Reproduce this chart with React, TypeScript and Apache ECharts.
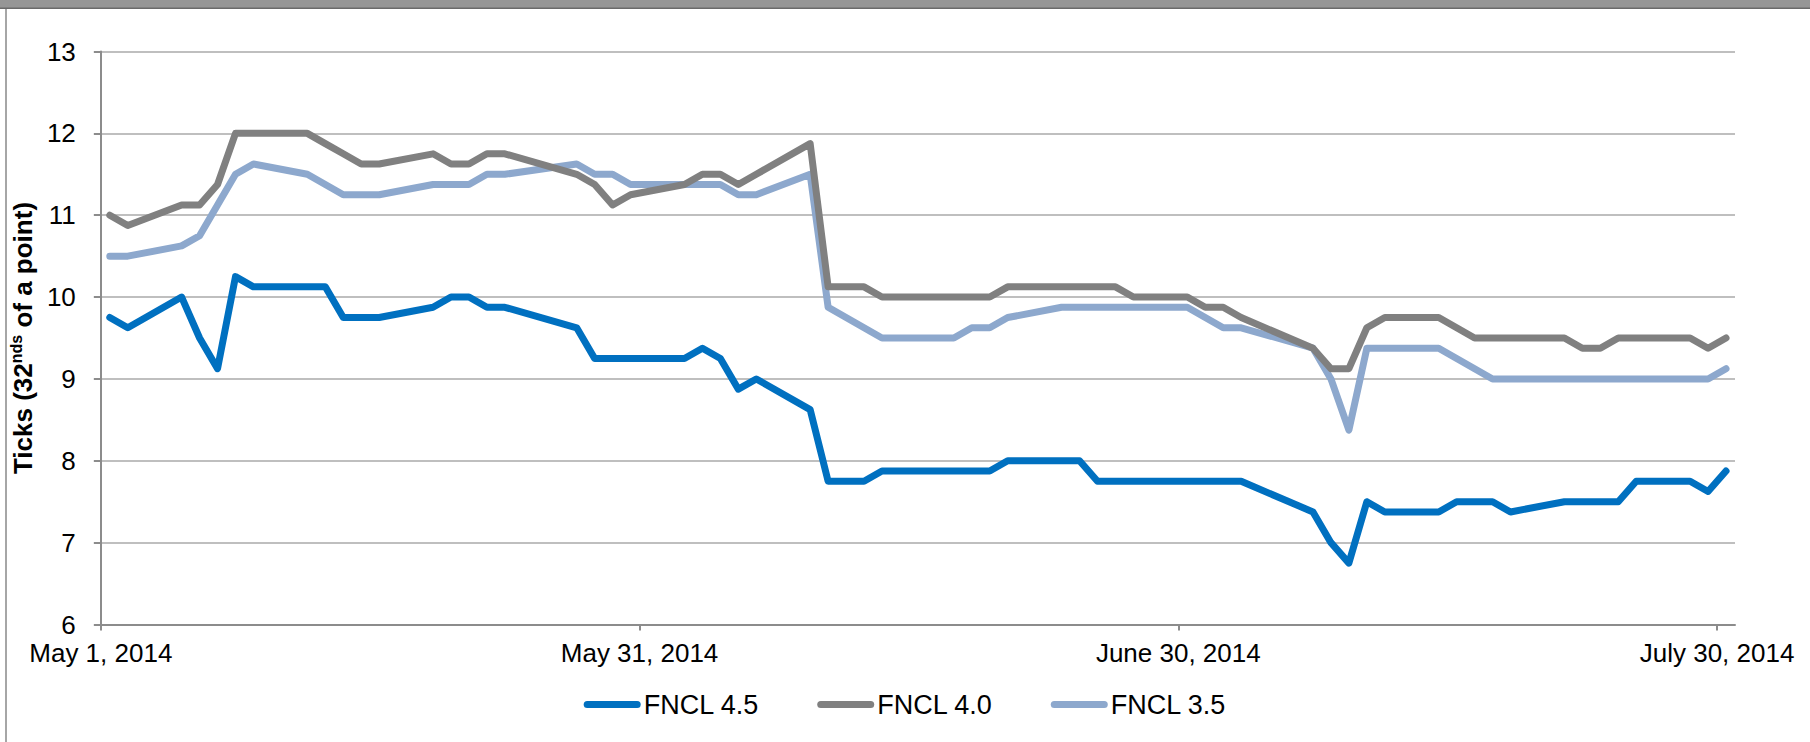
import React, { useEffect, useRef } from "react";
import * as echarts from "echarts";

const DATES = [
  "2014-05-01", "2014-05-02", "2014-05-05", "2014-05-06", "2014-05-07", "2014-05-08", "2014-05-09",
  "2014-05-12", "2014-05-13", "2014-05-14", "2014-05-15", "2014-05-16",
  "2014-05-19", "2014-05-20", "2014-05-21", "2014-05-22", "2014-05-23",
  "2014-05-27", "2014-05-28", "2014-05-29", "2014-05-30",
  "2014-06-02", "2014-06-03", "2014-06-04", "2014-06-05", "2014-06-06",
  "2014-06-09", "2014-06-10", "2014-06-11", "2014-06-12", "2014-06-13",
  "2014-06-16", "2014-06-17", "2014-06-18", "2014-06-19", "2014-06-20",
  "2014-06-23", "2014-06-24", "2014-06-25", "2014-06-26", "2014-06-27",
  "2014-06-30", "2014-07-01", "2014-07-02", "2014-07-03",
  "2014-07-07", "2014-07-08", "2014-07-09", "2014-07-10", "2014-07-11",
  "2014-07-14", "2014-07-15", "2014-07-16", "2014-07-17", "2014-07-18",
  "2014-07-21", "2014-07-22", "2014-07-23", "2014-07-24", "2014-07-25",
  "2014-07-28", "2014-07-29", "2014-07-30",
];

const FNCL_45 = [
  9.75, 9.625, 10.0, 9.5, 9.125, 10.25, 10.125,
  10.125, 10.125, 9.75, 9.75, 9.75,
  9.875, 10.0, 10.0, 9.875, 9.875,
  9.625, 9.25, 9.25, 9.25,
  9.25, 9.375, 9.25, 8.875, 9.0,
  8.625, 7.75, 7.75, 7.75, 7.875,
  7.875, 7.875, 7.875, 7.875, 8.0,
  8.0, 8.0, 7.75, 7.75, 7.75,
  7.75, 7.75, 7.75, 7.75,
  7.375, 7.0, 6.75, 7.5, 7.375,
  7.375, 7.5, 7.5, 7.5, 7.375,
  7.5, 7.5, 7.5, 7.5, 7.75,
  7.75, 7.625, 7.875,
];

const FNCL_40 = [
  11.0, 10.875, 11.125, 11.125, 11.375, 12.0, 12.0,
  12.0, 11.875, 11.75, 11.625, 11.625,
  11.75, 11.625, 11.625, 11.75, 11.75,
  11.5, 11.375, 11.125, 11.25,
  11.375, 11.5, 11.5, 11.375, 11.5,
  11.875, 10.125, 10.125, 10.125, 10.0,
  10.0, 10.0, 10.0, 10.0, 10.125,
  10.125, 10.125, 10.125, 10.125, 10.0,
  10.0, 9.875, 9.875, 9.75,
  9.375, 9.125, 9.125, 9.625, 9.75,
  9.75, 9.625, 9.5, 9.5, 9.5,
  9.5, 9.375, 9.375, 9.5, 9.5,
  9.5, 9.375, 9.5,
];

const FNCL_35 = [
  10.5, 10.5, 10.625, 10.75, 11.125, 11.5, 11.625,
  11.5, 11.375, 11.25, 11.25, 11.25,
  11.375, 11.375, 11.375, 11.5, 11.5,
  11.625, 11.5, 11.5, 11.375,
  11.375, 11.375, 11.375, 11.25, 11.25,
  11.5, 9.875, 9.75, 9.625, 9.5,
  9.5, 9.5, 9.625, 9.625, 9.75,
  9.875, 9.875, 9.875, 9.875, 9.875,
  9.875, 9.75, 9.625, 9.625,
  9.375, 9.0, 8.375, 9.375, 9.375,
  9.375, 9.25, 9.125, 9.0, 9.0,
  9.0, 9.0, 9.0, 9.0, 9.0,
  9.0, 9.0, 9.125,
];

const SERIES_NAMES = ["FNCL 4.5", "FNCL 4.0", "FNCL 3.5"];
const SERIES_COLORS = ["#0070C0", "#808080", "#8DA8CD"];
const X_TICK_DATES = ["2014-05-01", "2014-05-31", "2014-06-30", "2014-07-30"];
const X_MIN_DATE = "2014-05-01";
const X_MAX_DATE = "2014-07-31";
const Y_MIN = 6;
const Y_MAX = 13;
const Y_STEP = 1;
const MONTHS = [
  "January", "February", "March", "April", "May", "June",
  "July", "August", "September", "October", "November", "December",
];

const DAY_MS = 86400000;
const toTs = (d: string) =>
  Date.UTC(Number(d.slice(0, 4)), Number(d.slice(5, 7)) - 1, Number(d.slice(8, 10)));
const fmtDate = (v: number) => {
  const d = new Date(v);
  return `${MONTHS[d.getUTCMonth()]} ${d.getUTCDate()}, ${d.getUTCFullYear()}`;
};

const FONT = "'Liberation Sans', Arial, sans-serif";

export default function App() {
  const ref = useRef<HTMLDivElement>(null);

  useEffect(() => {
    if (!ref.current) return;
    const chart = echarts.init(ref.current, undefined, { renderer: "svg" });
    const values = [FNCL_45, FNCL_40, FNCL_35];
    const tickTs = X_TICK_DATES.map(toTs);
    const legendIcon =
      "path://M3.5,0 L53.5,0 A3.5,3.5 0 0 1 53.5,7 L3.5,7 A3.5,3.5 0 0 1 3.5,0 Z";

    chart.setOption({
      animation: false,
      backgroundColor: "#ffffff",
      textStyle: { fontFamily: FONT },
      graphic: [
        { type: "rect", shape: { x: 0, y: 0, width: 1810, height: 8 }, style: { fill: "#969696" } },
        { type: "rect", shape: { x: 0, y: 7.5, width: 1810, height: 1.5 }, style: { fill: "#6a6a6a" } },
        { type: "rect", shape: { x: 5, y: 9, width: 2, height: 733 }, style: { fill: "#a6a6a6" } },
      ],
      grid: { left: 95.5, right: 75, top: 51.5, bottom: 117.5 },
      legend: {
        bottom: 19,
        left: "center",
        itemWidth: 57,
        itemHeight: 7,
        itemGap: 58,
        icon: legendIcon,
        textStyle: { fontSize: 27, color: "#000", fontFamily: FONT, padding: [0, 0, 0, -2] },
        data: SERIES_NAMES,
      },
      xAxis: {
        type: "value",
        min: toTs(X_MIN_DATE),
        max: toTs(X_MAX_DATE),
        splitLine: { show: false },
        axisLine: { show: true, lineStyle: { color: "#8c8c8c", width: 2 } },
        axisTick: {
          show: true,
          length: 6,
          customValues: tickTs,
          lineStyle: { color: "#8c8c8c", width: 2 },
        },
        axisLabel: {
          customValues: tickTs,
          formatter: (v: number) => fmtDate(v),
          fontSize: 26,
          color: "#000",
          fontFamily: FONT,
          margin: 15,
          showMinLabel: true,
          showMaxLabel: true,
        },
      },
      yAxis: {
        type: "value",
        min: Y_MIN,
        max: Y_MAX,
        interval: Y_STEP,
        name: "{a|Ticks (32}{s|nds}{a| of a point)}",
        nameLocation: "middle",
        nameGap: 58,
        nameRotate: 90,
        nameTextStyle: {
          rich: {
            a: { fontSize: 26, fontWeight: "bold", color: "#000", fontFamily: FONT, lineHeight: 30 },
            s: { fontSize: 16, fontWeight: "bold", color: "#000", fontFamily: FONT, lineHeight: 30, verticalAlign: "top", padding: [0, 0, 6, 0] },
          },
        },
        axisLine: { show: true, lineStyle: { color: "#8c8c8c", width: 2 } },
        axisTick: { show: true, length: 7, lineStyle: { color: "#8c8c8c", width: 2 } },
        axisLabel: { fontSize: 26, color: "#000", fontFamily: FONT, margin: 25 },
        splitLine: { show: true, lineStyle: { color: "#bfbfbf", width: 2 } },
      },
      series: SERIES_NAMES.map((name, k) => ({
        name,
        type: "line",
        showSymbol: false,
        symbol: "none",
        color: SERIES_COLORS[k],
        lineStyle: { width: 7, color: SERIES_COLORS[k], cap: "round", join: "round" },
        data: DATES.map((d, i) => [toTs(d) + DAY_MS / 2, values[k][i]]),
        z: 3 - k,
      })),
    });

    return () => chart.dispose();
  }, []);

  return (
    <div
      ref={ref}
      style={{ position: "fixed", left: 0, top: 0, width: 1810, height: 742 }}
    />
  );
}
